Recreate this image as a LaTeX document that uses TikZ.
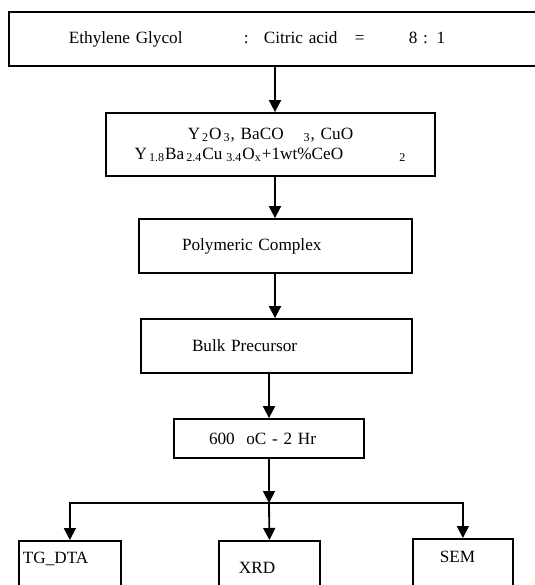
\documentclass[tikz,border=0pt]{standalone}
\usepackage{fontspec}
\setmainfont{Liberation Serif}
\usetikzlibrary{arrows.meta}

\begin{document}
\begin{tikzpicture}[x=0.5pt,y=-0.5pt,font=\fontsize{8.6}{10}\selectfont,
  stage/.style={draw,line width=0.9pt,inner ysep=0pt,align=left},
  flow/.style={line width=0.9pt,-{Triangle[length=6pt,width=6pt]}}]
\useasboundingbox (0,0) rectangle (535,585);
% process boxes, top to bottom
\node[stage,anchor=west,minimum height=27pt,inner xsep=30pt,text width=208.5pt] (ratio) at (8,39)
  {\makebox[87.5pt][l]{Ethylene Glycol}\makebox[10pt][l]{:}\makebox[45.5pt][l]{Citric acid}\makebox[27pt][l]{=}8 : 1};
\node[stage,align=center,inner xsep=0pt,text width=164.5pt,minimum height=31.5pt] (mix) at (270.5,144.5)
  {Y\textsubscript{\,2}O\textsubscript{\,3}, BaCO\hspace{10pt}\textsubscript{3}, CuO\\
   Y\textsubscript{\,1.8}Ba\textsubscript{\,2.4}Cu\textsubscript{\,\,3.4}O\textsubscript{x}+1wt\%CeO\hspace{28pt}\textsubscript{2}};
\node[stage,inner xsep=21.5pt,text width=93.5pt,minimum height=27pt] (gel) at (275.5,246) {Polymeric Complex};
\node[stage,inner xsep=25.5pt,text width=84.5pt,minimum height=27pt] (bulk) at (276.5,346) {Bulk Precursor};
\node[stage,inner xsep=17.5pt,text width=60pt,minimum height=19.5pt] (calc) at (269,438.5) {600\ \ oC - 2 Hr};
% characterisation
\node[stage,anchor=north west,inner xsep=2pt,text width=47pt,text height=11.25pt,text depth=20pt] (tgdta) at (18,540) {TG\_DTA};
\node[stage,anchor=north west,inner xsep=10pt,text width=30.5pt,text height=16.25pt,text depth=20pt] (xrd) at (218,540) {XRD};
\node[stage,anchor=north west,inner xsep=13.5pt,text width=23pt,text height=11.75pt,text depth=20pt] (sem) at (412,538) {SEM};
% connectors
\coordinate (upper) at (275,0); \coordinate (split) at (269,503);
\draw[flow] (ratio.south -| upper) -- (mix.north -| upper);
\draw[flow] (mix.south -| upper) -- (gel.north -| upper);
\draw[flow] (gel.south -| upper) -- (bulk.north -| upper);
\draw[flow] (bulk.south -| calc) -- (calc.north);
\draw[flow] (calc) -- (split);
\draw[flow] (split) -| (tgdta.north); \draw[flow] (split) -| (sem.north);
\draw[flow] (split) -- (xrd.north);
\end{tikzpicture}
\end{document}
